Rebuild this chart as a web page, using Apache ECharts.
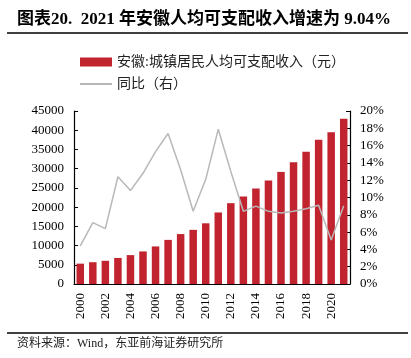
<!DOCTYPE html>
<html><head><meta charset="utf-8">
<script src="https://cdn.jsdelivr.net/npm/echarts@6/dist/echarts.min.js"></script>
<style>html,body{margin:0;padding:0;background:#fff}#c{width:411px;height:358px}</style>
</head><body><div id="c"></div>
<script>
const years = ["2000","2001","2002","2003","2004","2005","2006","2007","2008","2009","2010","2011","2012","2013","2014","2015","2016","2017","2018","2019","2020","2021"];
const income = [5294,5669,6032,6778,7511,8471,9771,11474,12990,14086,15788,18606,21024,22789,24839,26936,29156,31640,34393,37540,39442,43009];
const growth = [4.4,7.1,6.4,12.4,10.8,12.8,15.3,17.4,13.2,8.4,12.1,17.9,13.0,8.4,9.0,8.4,8.2,8.4,8.7,9.1,5.1,9.04];
const leftTicks = {min:0,max:45000,interval:5000};
const rightTicks = {min:0,max:20,interval:2};
const serif = '"Liberation Serif","Noto Sans CJK SC",serif';
const chart = echarts.init(document.getElementById('c'));
chart.setOption({
  animation:false,
  textStyle:{fontFamily:serif},
  graphic:[
    {type:'text',left:17,top:11,style:{text:'图表20.  2021 年安徽人均可支配收入增速为 9.04%',font:'bold 17px '+serif,fill:'#000'}},
    {type:'line',shape:{x1:7,y1:33,x2:408,y2:33},style:{stroke:'#000',lineWidth:1.5}},
    {type:'line',shape:{x1:7,y1:333,x2:408,y2:333},style:{stroke:'#000',lineWidth:1.5}},
    {type:'text',left:17,top:338,style:{text:'资料来源：Wind，东亚前海证券研究所',font:'12px '+serif,fill:'#222'}}
  ],
  legend:{
    orient:'vertical',left:74,top:50,itemWidth:32,itemHeight:9,itemGap:8,
    textStyle:{fontSize:14,fontFamily:serif,color:'#222'},
    data:[{name:'安徽:城镇居民人均可支配收入（元）',icon:'rect'},{name:'同比（右）',itemStyle:{opacity:0}}]
  },
  grid:{left:74,right:61,top:111,bottom:74},
  xAxis:{type:'category',data:years,
    axisLine:{lineStyle:{color:'#000',width:1.2}},axisTick:{show:false},
    axisLabel:{rotate:90,interval:1,fontSize:13,color:'#000',fontFamily:serif,margin:9}},
  yAxis:[
    {type:'value',min:leftTicks.min,max:leftTicks.max,interval:leftTicks.interval,splitLine:{show:false},
     axisLine:{show:true,lineStyle:{color:'#000',width:1.2}},axisTick:{show:true,inside:true,length:4,lineStyle:{color:'#000'}},
     axisLabel:{fontSize:13,color:'#000',fontFamily:serif,margin:10,formatter:v=>String(v)}},
    {type:'value',min:rightTicks.min,max:rightTicks.max,interval:rightTicks.interval,splitLine:{show:false},
     axisLine:{show:true,lineStyle:{color:'#000',width:1.2}},axisTick:{show:true,inside:true,length:4,lineStyle:{color:'#000'}},
     axisLabel:{fontSize:13,color:'#000',fontFamily:serif,margin:10,formatter:'{value}%'}}
  ],
  series:[
    {name:'安徽:城镇居民人均可支配收入（元）',type:'bar',data:income,barWidth:7.5,itemStyle:{color:'#c1232f'}},
    {name:'同比（右）',type:'line',yAxisIndex:1,data:growth,symbol:'none',lineStyle:{color:'#b8b8b8',width:1.5},itemStyle:{color:'#b8b8b8'}}
  ]
});
</script></body></html>
